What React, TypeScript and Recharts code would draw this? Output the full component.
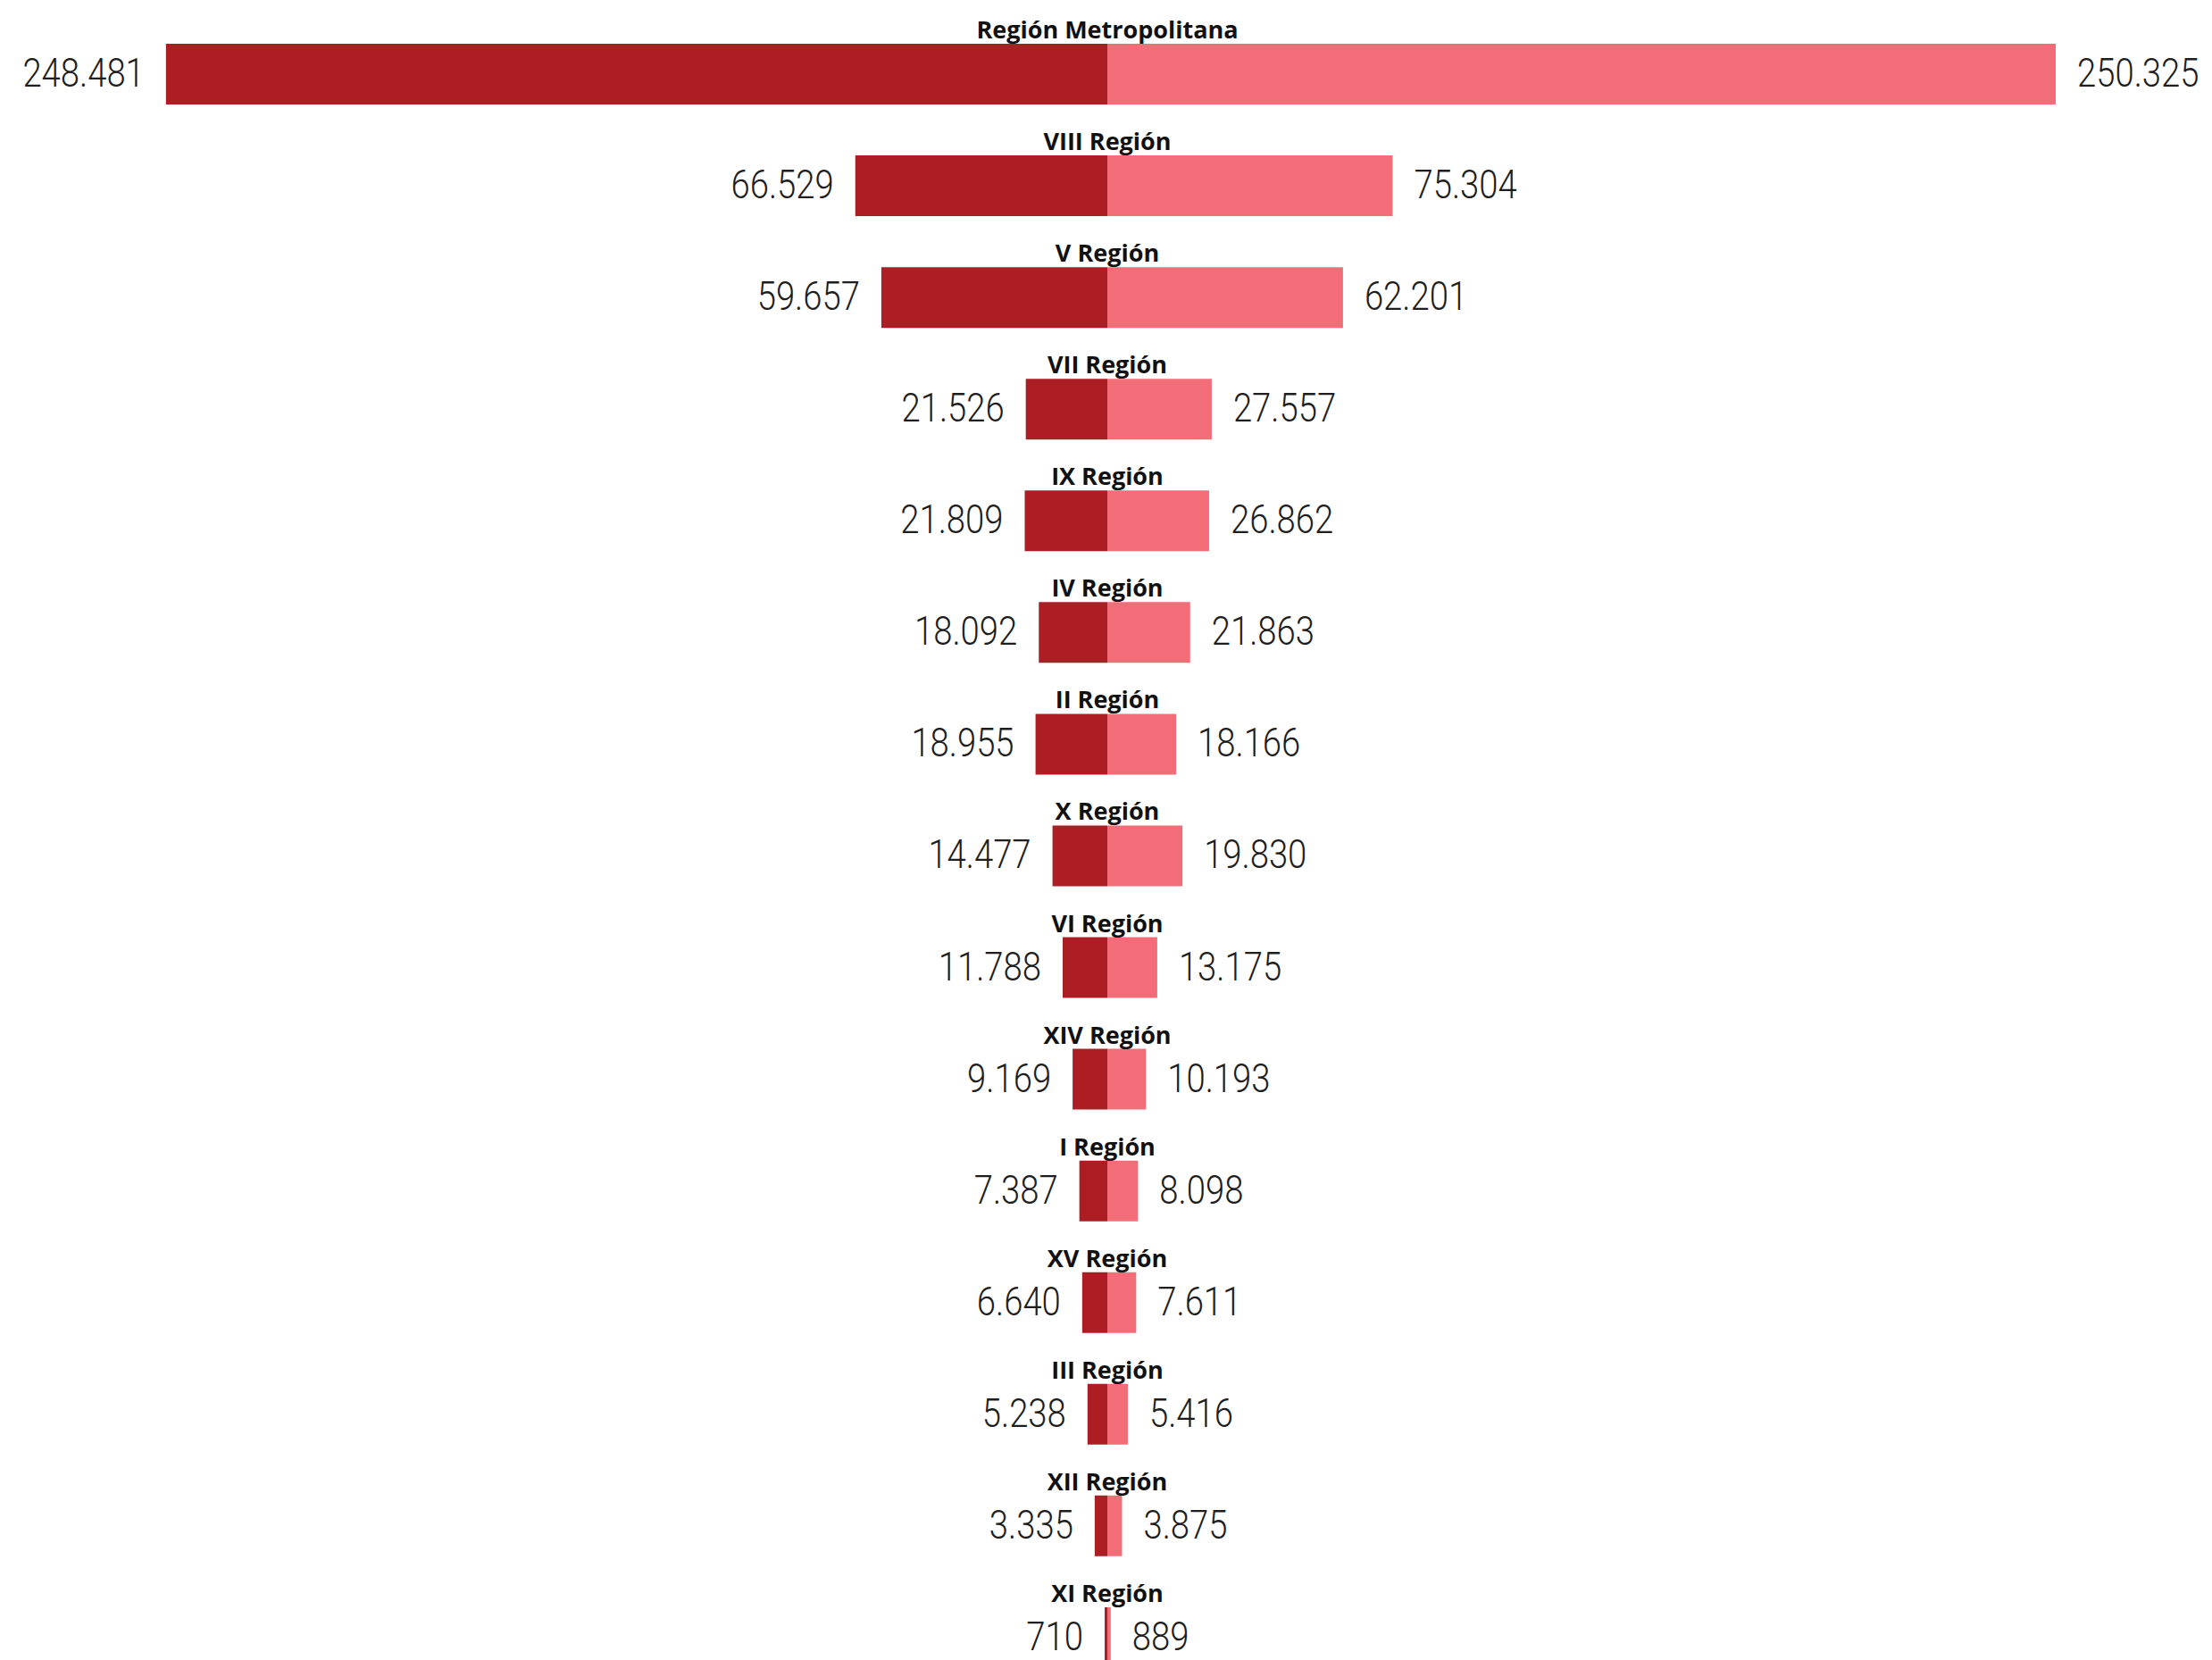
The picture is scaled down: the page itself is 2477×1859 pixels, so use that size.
import { BarChart, Bar, XAxis, YAxis, LabelList } from 'recharts';

const regiones = [
  'Región Metropolitana',
  'VIII Región',
  'V Región',
  'VII Región',
  'IX Región',
  'IV Región',
  'II Región',
  'X Región',
  'VI Región',
  'XIV Región',
  'I Región',
  'XV Región',
  'III Región',
  'XII Región',
  'XI Región',
];

const hombres = [248481, 66529, 59657, 21526, 21809, 18092, 18955, 14477, 11788, 9169, 7387, 6640, 5238, 3335, 710];
const mujeres = [250325, 75304, 62201, 27557, 26862, 21863, 18166, 19830, 13175, 10193, 8098, 7611, 5416, 3875, 889];

const maxValor = Math.max(...hombres, ...mujeres);

const data = regiones.map((region, i) => ({
  region,
  hombres: -hombres[i],
  mujeres: mujeres[i],
}));

const formato = (v: number) => String(Math.abs(v)).replace(/\B(?=(\d{3})+(?!\d))/g, '.');

const valueFont = { fontFamily: 'Roboto', fontWeight: 300, fontSize: 45, fill: '#1e1e1e' };

const LeftValue = (props: any) => {
  const { x, y, width, height, value } = props;
  const left = Math.min(Number(x), Number(x) + Number(width));
  const cy = Number(y) + Number(height) / 2;
  return (
    <text transform={`translate(${left - 24},${cy + 14}) scale(0.85,1)`} textAnchor="end" {...valueFont}>
      {formato(value)}
    </text>
  );
};

const RightValue = (props: any) => {
  const { x, y, width, height, value } = props;
  const right = Math.max(Number(x), Number(x) + Number(width));
  const cy = Number(y) + Number(height) / 2;
  return (
    <text transform={`translate(${right + 24},${cy + 14}) scale(0.85,1)`} textAnchor="start" {...valueFont}>
      {formato(value)}
    </text>
  );
};

// nombre de la región centrado sobre cada barra
const RegionLabel = (props: any) => {
  const { x, y, value } = props;
  return (
    <text
      x={Number(x)}
      y={Number(y) - 6}
      textAnchor="middle"
      style={{ fontFamily: '"Open Sans", sans-serif', fontWeight: 700, fontSize: 27 }}
      fill="#111"
    >
      {value}
    </text>
  );
};

export default function App() {
  return (
    <div style={{ position: 'absolute', top: 0, left: 0, width: 2477, height: 1859, overflow: 'hidden', background: '#fff' }}>
      <BarChart
        width={2477}
        height={1896}
        data={data}
        layout="vertical"
        stackOffset="sign"
        barSize={68}
        margin={{ top: 20, right: 175, bottom: 0, left: 178 }}
      >
        <XAxis type="number" hide domain={[-maxValor, maxValor]} allowDataOverflow />
        <YAxis type="category" dataKey="region" hide />
        <Bar dataKey="hombres" stackId="a" fill="#ad1d24" isAnimationActive={false}>
          <LabelList dataKey="hombres" content={LeftValue} />
        </Bar>
        <Bar dataKey="mujeres" stackId="a" fill="#f26d77" isAnimationActive={false}>
          <LabelList dataKey="mujeres" content={RightValue} />
          <LabelList dataKey="region" content={RegionLabel} />
        </Bar>
      </BarChart>
    </div>
  );
}
